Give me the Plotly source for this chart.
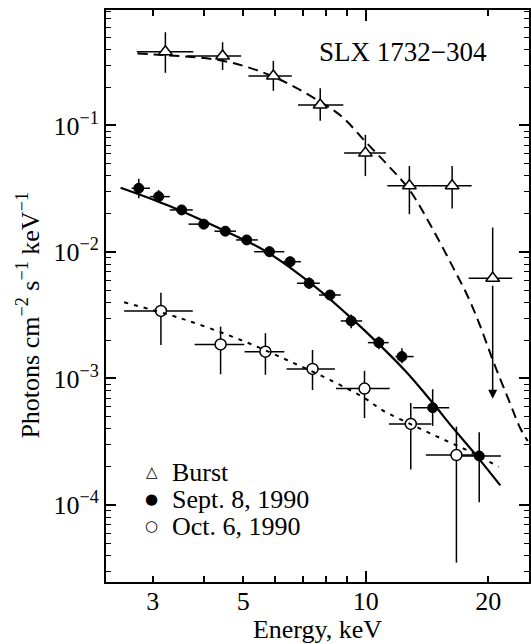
import numpy as np
import plotly.graph_objects as go

# ---------------- data ----------------
# Burst (open triangles)
burst_E    = [3.22, 4.45, 5.93, 7.73, 9.98, 12.8, 16.3]
burst_E_lo = [2.74, 3.64, 5.15, 6.82, 8.85, 11.3, 14.4]
burst_E_hi = [3.77, 4.94, 6.58, 8.81, 11.2, 14.4, 18.2]
burst_F    = [0.383, 0.354, 0.246, 0.145, 0.0605, 0.0334, 0.0334]
burst_F_lo = [0.261, 0.275, 0.188, 0.109, 0.0398, 0.0199, 0.0221]
burst_F_hi = [0.546, 0.455, 0.324, 0.197, 0.0844, 0.0479, 0.0479]
# Burst upper-limit point
ul_E, ul_E_lo, ul_E_hi = 20.5, 17.9, 22.9
ul_F, ul_F_hi, ul_F_arrow = 0.0062, 0.0156, 0.00069

# Sept. 8, 1990 (filled circles)
sep_E    = [2.77, 3.10, 3.53, 4.00, 4.52, 5.10, 5.80, 6.52, 7.26, 8.17, 9.21, 10.77, 12.27, 14.6, 19.0]
sep_E_lo = [2.66, 2.95, 3.30, 3.67, 4.25, 4.80, 5.32, 6.27, 6.78, 7.68, 8.68, 10.12, 11.83, 13.06, 16.58]
sep_E_hi = [2.95, 3.30, 3.76, 4.13, 4.80, 5.43, 6.31, 6.93, 7.71, 8.68, 9.80, 11.38, 13.11, 16.03, 21.48]
sep_F    = [0.0319, 0.0274, 0.0215, 0.0166, 0.0146, 0.01245, 0.01005, 0.00838, 0.00566, 0.00457,
            0.00285, 0.00192, 0.00149, 0.000587, 0.000244]
sep_F_lo = [0.0266, 0.0244, 0.0200, 0.0155, 0.0136, 0.0116, 0.0091, 0.0078, 0.0051, 0.0042,
            0.0025, 0.0017, 0.00132, 0.000422, 0.000105]
sep_F_hi = [0.0380, 0.0309, 0.0231, 0.0178, 0.0157, 0.0134, 0.0111, 0.0090, 0.0063, 0.0050,
            0.0032, 0.00215, 0.00173, 0.000822, 0.000376]

# Oct. 6, 1990 (open circles)
oct_E    = [3.14, 4.40, 5.67, 7.40, 9.93, 12.9, 16.7]
oct_E_lo = [2.55, 3.80, 5.04, 6.39, 8.45, 11.4, 14.05]
oct_E_hi = [3.76, 5.03, 6.31, 8.40, 11.45, 14.5, 18.55]
oct_F    = [0.00342, 0.00186, 0.00163, 0.00119, 0.000832, 0.000437, 0.000248]
oct_F_lo = [0.00184, 0.00108, 0.00107, 0.00081, 0.000486, 0.000191, 0.000035]
oct_F_hi = [0.00476, 0.00257, 0.00228, 0.00168, 0.00115, 0.00064, 0.000416]

# Model curves
burst_fit_E = [2.75, 3.2, 4.45, 5.9, 7.7, 8.75, 10.0, 11.3, 12.8, 14.5, 16.3, 17.9, 19.1, 20.6, 22.6, 24.0, 25.0]
burst_fit_F = [0.37, 0.36, 0.325, 0.245, 0.155, 0.117, 0.074, 0.049, 0.031, 0.0158, 0.0078, 0.0043,
               0.0026, 0.00135, 0.00064, 0.0004, 0.00032]
sep_fit_E = [2.50, 3.24, 4.29, 5.69, 7.53, 9.0, 10.77, 12.5, 14.5, 16.3, 18.5, 21.4]
sep_fit_F = [0.0322, 0.0236, 0.0158, 0.0101, 0.00528, 0.00321, 0.00187, 0.00115, 0.00066, 0.000414,
             0.000256, 0.000143]
oct_fit_E = [2.55, 3.5, 5.0, 6.4, 8.3, 10.0, 11.0, 13.2, 15.5, 18.2, 21.2]
oct_fit_F = [0.0040, 0.0030, 0.00198, 0.0014, 0.00095, 0.00069, 0.00056, 0.00042, 0.00033, 0.00026, 0.0002]

legend_labels = ["Burst", "Sept. 8, 1990", "Oct. 6, 1990"]
legend_glyphs = ["\u25b3", "\u25cf", "\u25cb"]

x_ticks = [3, 5, 10, 20]
x_minor = [4, 6, 7, 8, 9]
y_ticks = [1e-4, 1e-3, 1e-2, 1e-1]
y_ticktext = ["10<sup>\u22124</sup>", "10<sup>\u22123</sup>", "10<sup>\u22122</sup>", "10<sup>\u22121</sup>"]
y_minor = [m * 10.0 ** d for d in range(-5, 0) for m in range(2, 10)]

FONT = "Liberation Serif, Times New Roman, serif"
BLACK = "black"


def errs(v, lo, hi):
    v, lo, hi = np.array(v), np.array(lo), np.array(hi)
    return (hi - v).tolist(), (v - lo).tolist()


fig = go.Figure()

# model curves
fig.add_trace(go.Scatter(x=burst_fit_E, y=burst_fit_F, mode="lines", line_shape="spline",
                         line=dict(color=BLACK, width=2, dash="10px,6px"), showlegend=False,
                         hoverinfo="skip"))
fig.add_trace(go.Scatter(x=sep_fit_E, y=sep_fit_F, mode="lines", line_shape="spline",
                         line=dict(color=BLACK, width=2.2), showlegend=False, hoverinfo="skip"))
fig.add_trace(go.Scatter(x=oct_fit_E, y=oct_fit_F, mode="lines", line_shape="spline",
                         line=dict(color=BLACK, width=2, dash="4px,6px"), showlegend=False,
                         hoverinfo="skip", xaxis="x2"))

EB = dict(type="data", symmetric=False, color=BLACK, thickness=1.5, width=0)

# burst points
ey_p, ey_m = errs(burst_F, burst_F_lo, burst_F_hi)
ex_p, ex_m = errs(burst_E, burst_E_lo, burst_E_hi)
fig.add_trace(go.Scatter(x=burst_E, y=burst_F, mode="markers", name=legend_labels[0],
                         marker=dict(symbol="triangle-up", size=12, color="white",
                                     line=dict(color=BLACK, width=1.5)),
                         error_y=dict(array=ey_p, arrayminus=ey_m, **EB),
                         error_x=dict(array=ex_p, arrayminus=ex_m, **EB),
                         showlegend=False))
# upper limit
fig.add_trace(go.Scatter(x=[ul_E], y=[ul_F], mode="markers",
                         marker=dict(symbol="triangle-up", size=12, color="white",
                                     line=dict(color=BLACK, width=1.5)),
                         error_y=dict(array=[ul_F_hi - ul_F], arrayminus=[0], **EB),
                         error_x=dict(array=[ul_E_hi - ul_E], arrayminus=[ul_E - ul_E_lo], **EB),
                         showlegend=False))
fig.add_annotation(x=np.log10(ul_E), y=np.log10(ul_F_arrow), ax=np.log10(ul_E), ay=np.log10(ul_F),
                   xref="x", yref="y", axref="x", ayref="y", text="", showarrow=True,
                   arrowhead=2, arrowsize=1.2, arrowwidth=1.5, arrowcolor=BLACK, standoff=0,
                   startstandoff=6)

# Sept points
ey_p, ey_m = errs(sep_F, sep_F_lo, sep_F_hi)
ex_p, ex_m = errs(sep_E, sep_E_lo, sep_E_hi)
fig.add_trace(go.Scatter(x=sep_E, y=sep_F, mode="markers", name=legend_labels[1],
                         marker=dict(symbol="circle", size=10, color=BLACK,
                                     line=dict(color=BLACK, width=1)),
                         error_y=dict(array=ey_p, arrayminus=ey_m, **EB),
                         error_x=dict(array=ex_p, arrayminus=ex_m, **EB),
                         showlegend=False))

# Oct points
ey_p, ey_m = errs(oct_F, oct_F_lo, oct_F_hi)
ex_p, ex_m = errs(oct_E, oct_E_lo, oct_E_hi)
fig.add_trace(go.Scatter(x=oct_E, y=oct_F, mode="markers", name=legend_labels[2],
                         marker=dict(symbol="circle", size=11, color="white",
                                     line=dict(color=BLACK, width=1.5)),
                         error_y=dict(array=ey_p, arrayminus=ey_m, **EB),
                         error_x=dict(array=ex_p, arrayminus=ex_m, **EB),
                         showlegend=False))

xr = [0.362, 1.401]
yr = [-4.609, -0.087]
axis_common = dict(showline=True, linecolor=BLACK, linewidth=1.8, mirror="ticks",
                   ticks="inside", tickcolor=BLACK, tickwidth=1.5, showgrid=False,
                   zeroline=False)
fig.update_layout(
    width=531, height=644,
    margin=dict(l=106, r=0, t=10, b=62),
    paper_bgcolor="white", plot_bgcolor="white",
    font=dict(family=FONT, size=26, color=BLACK),
    showlegend=False,
    xaxis=dict(type="log", range=xr, tickvals=x_ticks, ticktext=[str(v) for v in x_ticks],
               ticklen=6, ticklabelstandoff=-5,
               minor=dict(tickvals=x_minor, ticklen=6, ticks="inside",
                          tickcolor=BLACK, tickwidth=1.5),
               tickfont=dict(family=FONT, size=26),
               title=dict(text="Energy, keV", font=dict(family=FONT, size=26), standoff=2),
               **axis_common),
    xaxis2=dict(type="log", range=xr, overlaying="x", anchor="y", side="bottom",
                tickvals=[10], ticklen=11, showticklabels=False, ticks="inside",
                tickcolor=BLACK, tickwidth=1.5, mirror="ticks", showline=False,
                showgrid=False, zeroline=False),
    yaxis=dict(type="log", range=yr, tickvals=y_ticks, ticktext=y_ticktext, ticklen=10,
               minor=dict(tickvals=y_minor, ticklen=5, ticks="inside", tickcolor=BLACK,
                          tickwidth=1.3),
               tickfont=dict(family=FONT, size=26), **axis_common),
)

fig.add_annotation(text="Photons cm<sup>\u22122</sup> s<sup>\u22121</sup> keV<sup>\u22121</sup>",
                   xref="paper", yref="paper", x=-0.184, y=0.466, textangle=-90,
                   showarrow=False, font=dict(family=FONT, size=26), xanchor="center",
                   yanchor="middle")
fig.add_annotation(text="SLX 1732\u2212304", xref="paper", yref="paper", x=0.703, y=0.926,
                   showarrow=False, font=dict(family=FONT, size=27), xanchor="center",
                   yanchor="middle")

# key (legend) in the lower-left corner
for i, (glyph, label) in enumerate(zip(legend_glyphs, legend_labels)):
    yk = 0.1923 - i * 0.0472
    fig.add_annotation(text=glyph, xref="paper", yref="paper", x=0.1085, y=yk,
                       showarrow=False, font=dict(family="DejaVu Sans", size=15),
                       xanchor="center", yanchor="middle")
    fig.add_annotation(text=label, xref="paper", yref="paper", x=0.152, y=yk,
                       showarrow=False, font=dict(family=FONT, size=26),
                       xanchor="left", yanchor="middle")

fig.write_html("out.html")
